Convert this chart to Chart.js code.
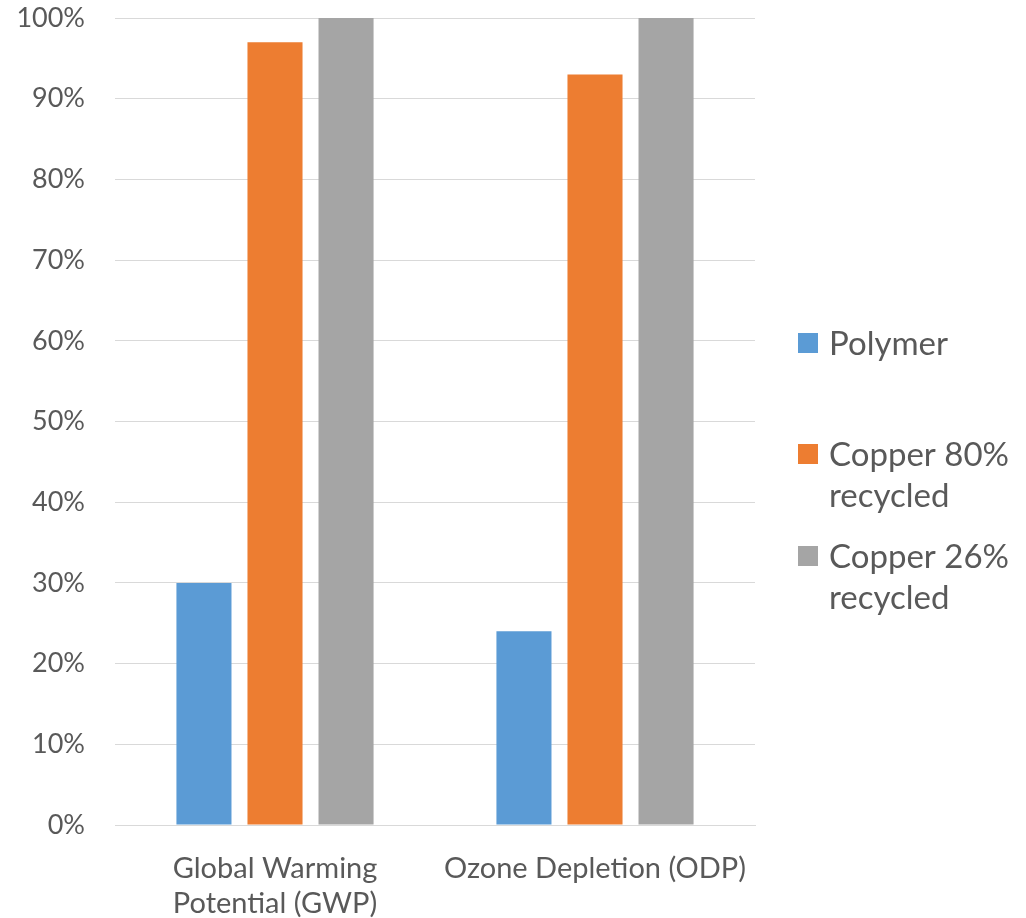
<!DOCTYPE html>
<html>
<head>
<meta charset="utf-8">
<script src="https://cdn.jsdelivr.net/npm/chart.js@4"></script>
<style>
html,body{margin:0;padding:0;background:#fff;}
#wrap{width:1026px;height:918px;position:relative;}
</style>
</head>
<body>
<div id="wrap"><canvas id="c" width="1026" height="918"></canvas></div>
<script>
const categories = [["Global Warming", "Potential (GWP)"], "Ozone Depletion (ODP)"];
const seriesNames = [["Polymer"], ["Copper 80%", "recycled"], ["Copper 26%", "recycled"]];
const polymer = [30, 24];
const copper80 = [97, 93];
const copper26 = [100, 100];
const yTicks = [0, 10, 20, 30, 40, 50, 60, 70, 80, 90, 100];
const colors = ["#5B9BD5", "#ED7D31", "#A5A5A5"];

const FONT = "Lato, 'Open Sans', sans-serif";
const TEXT = "#595959";

const legendPlugin = {
  id: 'wrapLegend',
  afterDraw(chart, args, opts) {
    const ctx = chart.ctx;
    ctx.save();
    ctx.font = opts.fontSize + "px " + FONT;
    ctx.textBaseline = 'alphabetic';
    ctx.textAlign = 'left';
    chart.data.datasets.forEach((ds, i) => {
      const base = opts.baselines[i];
      ctx.fillStyle = ds.backgroundColor;
      ctx.fillRect(opts.boxX, base - opts.boxOffset, opts.boxSize, opts.boxSize);
      ctx.fillStyle = TEXT;
      ds.legendLines.forEach((line, j) => {
        ctx.fillText(line, opts.textX, base + j * opts.lineHeight);
      });
    });
    ctx.restore();
  }
};

new Chart(document.getElementById('c'), {
  type: 'bar',
  data: {
    labels: categories,
    datasets: [
      { label: seriesNames[0].join(' '), legendLines: seriesNames[0], data: polymer, backgroundColor: colors[0] },
      { label: seriesNames[1].join(' '), legendLines: seriesNames[1], data: copper80, backgroundColor: colors[1] },
      { label: seriesNames[2].join(' '), legendLines: seriesNames[2], data: copper26, backgroundColor: colors[2] }
    ]
  },
  plugins: [legendPlugin],
  options: {
    responsive: false,
    animation: false,
    events: [],
    layout: { padding: { left: 0, top: 18, right: 271, bottom: 0 } },
    datasets: { bar: { categoryPercentage: 0.666, barPercentage: 0.775 } },
    plugins: {
      legend: { display: false },
      tooltip: { enabled: false },
      wrapLegend: { fontSize: 33, boxX: 798, boxSize: 20, boxOffset: 22, textX: 829, baselines: [355, 466, 568], lineHeight: 41 }
    },
    scales: {
      x: {
        grid: { display: false },
        border: { display: true, color: '#D9D9D9', width: 1 },
        ticks: { color: TEXT, font: { family: FONT, size: 29, lineHeight: 1.22 }, padding: 18, maxRotation: 0, minRotation: 0, autoSkip: false },
        afterFit(s) { s.height = 93; s.paddingLeft = 0; s.paddingRight = 0; }
      },
      y: {
        min: 0, max: 100,
        afterBuildTicks(s) { s.ticks = yTicks.map(v => ({ value: v })); },
        grid: { color: '#D9D9D9', lineWidth: 1, drawTicks: false },
        border: { display: false },
        ticks: { color: TEXT, font: { family: FONT, size: 27 }, padding: 30, callback: v => v + '%' },
        afterFit(s) { s.width = 115; s.paddingTop = 0; s.paddingBottom = 0; }
      }
    }
  }
});
</script>
</body>
</html>
